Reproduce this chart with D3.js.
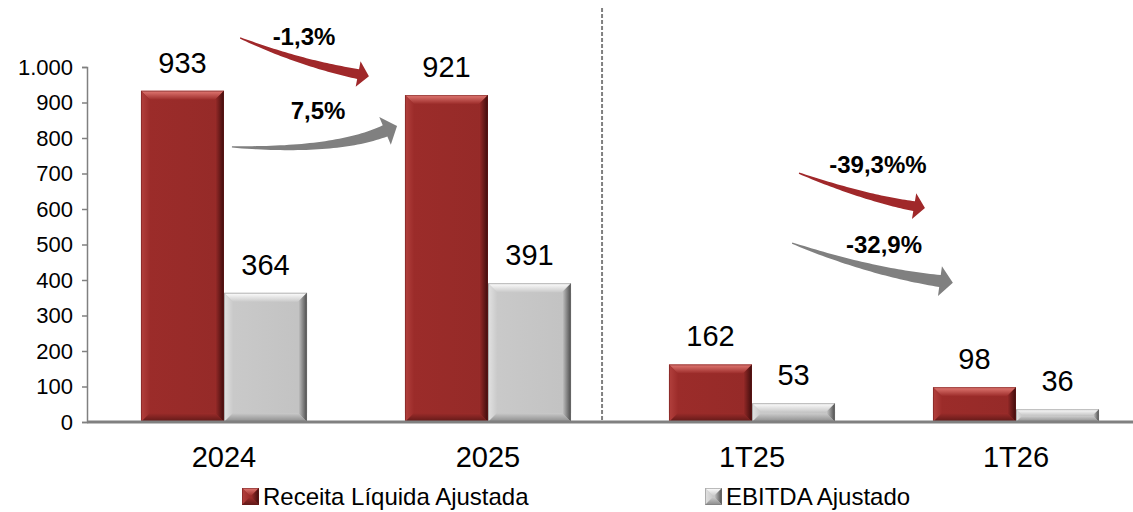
<!DOCTYPE html>
<html>
<head>
<meta charset="utf-8">
<script src="https://cdn.jsdelivr.net/npm/d3@7"></script>
<style>
  body { margin: 0; background: #fff; }
  svg { display: block; font-family: "Liberation Sans", Arial, sans-serif; }
</style>
</head>
<body>
<svg id="chart" width="1133" height="512"></svg>
<script>
// data
const categories = ['2024', '2025', '1T25', '1T26']
const seriesNames = ['Receita Líquida Ajustada', 'EBITDA Ajustado']
const receita = [933, 921, 162, 98]
const ebitda = [364, 391, 53, 36]
const yTicks = [0, 100, 200, 300, 400, 500, 600, 700, 800, 900, 1000]

// growth arrows, x in category index units, y in value units
const arrowLabels = ['-1,3%', '7,5%', '-39,3%%', '-32,9%']
const arrowKinds = ['red', 'gray', 'red', 'gray']
const arrowStart = [[0.061, 1082], [0.030, 775], [2.178, 701], [2.152, 504]]
const arrowCtrl = [[0.288, 1011], [0.420, 761], [2.428, 631], [2.447, 423]]
const arrowEnd = [[0.508, 980], [0.610, 820], [2.614, 608], [2.712, 397]]
const labelPos = [[0.303, 1062], [0.356, 854], [2.477, 701], [2.500, 476]]
const dividerAt = 1.432

const svg = d3.select('#chart')
const margin = { left: 92, right: -15, top: 67, bottom: 90 }
const width = 1133, height = 512

const x = d3.scaleBand()
  .domain(categories)
  .range([margin.left, width - margin.right])
  .paddingInner(0.371)
  .paddingOuter(0.1855)
const x1 = d3.scaleBand().domain([0, 1]).range([0, x.bandwidth()])
const y = d3.scaleLinear().domain([0, 1000]).range([height - margin.bottom, margin.top])
const xi = d3.scaleLinear().domain([0, 1])
  .range([x(categories[0]) + x.bandwidth() / 2, x(categories[1]) + x.bandwidth() / 2])

const palettes = {
  red: { face: '#9c2c2a', light: '#e27a74', side: '#b2403d', dark: '#3e0c0c', bottom: '#5e1817', edge: '#6a1a19' },
  gray: { face: '#cacaca', light: '#ffffff', side: '#e2e2e2', dark: '#4a4a4a', bottom: '#8a8a8a', edge: '#7a7a7a' }
}

const defs = svg.append('defs')
Object.entries(palettes).forEach(([k, p]) => {
  const grad = (id, x2, y2, c1, c2) => {
    const g = defs.append('linearGradient').attr('id', id)
      .attr('x1', 0).attr('y1', 0).attr('x2', x2).attr('y2', y2)
    g.append('stop').attr('offset', '0%').attr('stop-color', c1)
    g.append('stop').attr('offset', '100%').attr('stop-color', c2)
  }
  grad(k + '-top', 0, 1, p.light, p.face)
  grad(k + '-left', 1, 0, p.side, p.face)
  grad(k + '-right', 1, 0, p.face, p.dark)
  grad(k + '-bottom', 0, 1, p.face, p.bottom)
  grad(k + '-face', 1, 0, p.face, d3.color(p.face).darker(0.12))
})

function bevelRect(g, bx, by, w, h, kind, bv) {
  const b = Math.min(bv, h / 2.2, w / 2)
  const X0 = bx, X1 = bx + w, Y0 = by, Y1 = by + h
  const pts = a => a.map(p => p.join(',')).join(' ')
  g.append('rect').attr('x', X0).attr('y', Y0).attr('width', w).attr('height', h)
    .attr('fill', 'url(#' + kind + '-face)')
  g.append('polygon').attr('points', pts([[X0, Y0], [X1, Y0], [X1 - b, Y0 + b], [X0 + b, Y0 + b]]))
    .attr('fill', 'url(#' + kind + '-top)')
  g.append('polygon').attr('points', pts([[X0, Y1], [X0, Y0], [X0 + b, Y0 + b], [X0 + b, Y1 - b]]))
    .attr('fill', 'url(#' + kind + '-left)')
  g.append('polygon').attr('points', pts([[X1, Y0], [X1, Y1], [X1 - b, Y1 - b], [X1 - b, Y0 + b]]))
    .attr('fill', 'url(#' + kind + '-right)')
  g.append('polygon').attr('points', pts([[X1, Y1], [X0, Y1], [X0 + b, Y1 - b], [X1 - b, Y1 - b]]))
    .attr('fill', 'url(#' + kind + '-bottom)')
  g.append('rect').attr('x', X0 + 0.5).attr('y', Y0 + 0.5).attr('width', w - 1).attr('height', h - 1)
    .attr('fill', 'none').attr('stroke', palettes[kind].edge).attr('stroke-width', 1).attr('stroke-opacity', 0.5)
}

// y axis
const yAxis = svg.append('g').attr('transform', `translate(${margin.left - 5},0)`)
  .call(d3.axisLeft(y).tickValues(yTicks).tickSize(5).tickPadding(9)
    .tickFormat(d => d3.format(',')(d).replace(/,/g, '.')))
yAxis.select('.domain').attr('stroke', '#808080').attr('stroke-width', 1.5)
yAxis.selectAll('.tick line').attr('stroke', '#808080').attr('stroke-width', 1.5)
yAxis.selectAll('.tick text').attr('font-size', 22).attr('fill', '#000')
  .attr('font-family', '"Liberation Sans", Arial, sans-serif')

// divider
svg.append('line')
  .attr('x1', xi(dividerAt)).attr('x2', xi(dividerAt))
  .attr('y1', y(1166)).attr('y2', y(0))
  .attr('stroke', '#808080').attr('stroke-width', 2).attr('stroke-dasharray', '4,2')

// bars
const series = [receita, ebitda]
const kinds = ['red', 'gray']
const barG = svg.append('g')
categories.forEach((c, i) => {
  series.forEach((s, j) => {
    const bx = x(c) + x1(j), bw = x1.bandwidth()
    bevelRect(barG, bx, y(s[i]), bw, y(0) - y(s[i]), kinds[j], 9)
    barG.append('text')
      .attr('x', bx + bw / 2).attr('y', y(s[i]) - 18)
      .attr('text-anchor', 'middle').attr('font-size', 29).attr('fill', '#000')
      .text(s[i])
  })
})

// baseline
svg.append('line')
  .attr('x1', margin.left - 5).attr('x2', width)
  .attr('y1', y(0)).attr('y2', y(0))
  .attr('stroke', '#808080').attr('stroke-width', 3)

// category labels
svg.append('g').selectAll('text').data(categories).join('text')
  .attr('x', d => x(d) + x.bandwidth() / 2).attr('y', y(0) + 45)
  .attr('text-anchor', 'middle').attr('font-size', 29).attr('fill', '#000')
  .text(d => d)

// arrows
function arrowPath(p0, c, p2, wEnd, headHalf, headLen) {
  const n = 40, left = [], right = []
  let tx = 1, ty = 0
  for (let k = 0; k <= n; k++) {
    const t = k / n
    const px = (1 - t) * (1 - t) * p0[0] + 2 * (1 - t) * t * c[0] + t * t * p2[0]
    const py = (1 - t) * (1 - t) * p0[1] + 2 * (1 - t) * t * c[1] + t * t * p2[1]
    const dx = 2 * (1 - t) * (c[0] - p0[0]) + 2 * t * (p2[0] - c[0])
    const dy = 2 * (1 - t) * (c[1] - p0[1]) + 2 * t * (p2[1] - c[1])
    const len = Math.hypot(dx, dy)
    tx = dx / len; ty = dy / len
    const hw = (0.6 + (wEnd / 2 - 0.6) * Math.pow(t, 0.8))
    left.push([px - ty * hw, py + tx * hw])
    right.push([px + ty * hw, py - tx * hw])
  }
  const e = p2
  const ptsAll = left.concat([
    [e[0] - ty * headHalf, e[1] + tx * headHalf],
    [e[0] + tx * headLen, e[1] + ty * headLen],
    [e[0] + ty * headHalf, e[1] - tx * headHalf]
  ], right.reverse())
  return d3.line()(ptsAll) + 'Z'
}

const arrowColors = { red: '#a0282a', gray: '#808080' }
const arrowG = svg.append('g')
arrowLabels.forEach((lab, i) => {
  const P = d => [xi(d[0]), y(d[1])]
  const isGray = arrowKinds[i] === 'gray'
  arrowG.append('path')
    .attr('d', arrowPath(P(arrowStart[i]), P(arrowCtrl[i]), P(arrowEnd[i]),
      isGray ? 12 : 10, isGray ? 15 : 13, isGray ? 13 : 11))
    .attr('fill', arrowColors[arrowKinds[i]])
  arrowG.append('text')
    .attr('x', xi(labelPos[i][0])).attr('y', y(labelPos[i][1]))
    .attr('text-anchor', 'middle').attr('font-size', 24).attr('font-weight', 'bold')
    .attr('fill', '#000')
    .text(lab)
})

// legend
const legendX = [242, 705]
const legend = svg.append('g')
seriesNames.forEach((name, j) => {
  const lg = legend.append('g').attr('transform', `translate(${legendX[j]},488)`)
  bevelRect(lg, 0, 0, 17, 17, kinds[j], 8.5)
  lg.append('text').attr('x', 21).attr('y', 17)
    .attr('font-size', 24).attr('fill', '#000')
    .text(name)
})
</script>
</body>
</html>
